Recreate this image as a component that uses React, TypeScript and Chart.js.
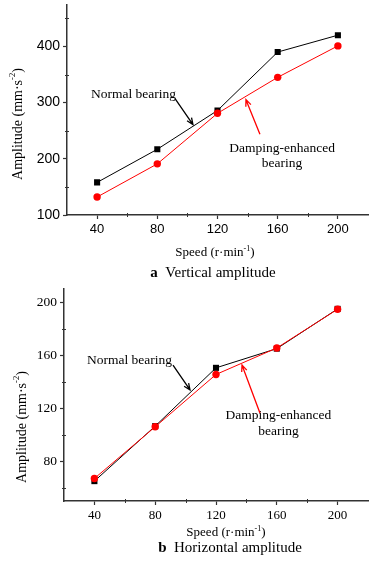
import { useEffect, useRef } from 'react';
import Chart from 'chart.js/auto';

const speeds = [40, 80, 120, 160, 200];
const verticalNormal = [158, 217, 286, 390, 420];
const verticalDamping = [132, 191, 281, 345, 401];
const horizontalNormal = [65, 106.5, 150.5, 165, 195];
const horizontalDamping = [67, 106, 145.5, 165.5, 194.7];
const xMajorTicks = [40, 80, 120, 160, 200];
const xMinorTicks = [60, 100, 140, 180];
const verticalMajorTicks = [100, 200, 300, 400];
const verticalMinorTicks = [150, 250, 350, 450];
const horizontalMajorTicks = [80, 120, 160, 200];
const horizontalMinorTicks = [60, 100, 140, 180];
const seriesNames = ['Normal bearing', 'Damping-enhanced bearing'];

const SERIF = '"Liberation Serif", "Times New Roman", serif';
const SANS = '"Liberation Sans", Arial, sans-serif';

type Part = { text: string; sup?: boolean; bold?: boolean };

function drawParts(ctx: CanvasRenderingContext2D, parts: Part[], cx: number, cy: number, size: number) {
  const fontFor = (p: Part) => `${p.bold ? 'bold ' : ''}${p.sup ? size * 0.62 : size}px ${SERIF}`;
  let total = 0;
  const widths = parts.map((p) => {
    ctx.font = fontFor(p);
    const w = ctx.measureText(p.text).width;
    total += w;
    return w;
  });
  let x = cx - total / 2;
  ctx.textAlign = 'left';
  ctx.textBaseline = 'middle';
  parts.forEach((p, i) => {
    ctx.font = fontFor(p);
    ctx.fillText(p.text, x, p.sup ? cy - size * 0.35 : cy);
    x += widths[i];
  });
}

function drawArrow(ctx: CanvasRenderingContext2D, x1: number, y1: number, x2: number, y2: number, color: string) {
  ctx.save();
  ctx.strokeStyle = color;
  ctx.lineWidth = 1.3;
  ctx.beginPath();
  ctx.moveTo(x1, y1);
  ctx.lineTo(x2, y2);
  const a = Math.atan2(y2 - y1, x2 - x1);
  const L = 7;
  ctx.moveTo(x2 - L * Math.cos(a - 0.4), y2 - L * Math.sin(a - 0.4));
  ctx.lineTo(x2, y2);
  ctx.lineTo(x2 - L * Math.cos(a + 0.4), y2 - L * Math.sin(a + 0.4));
  ctx.stroke();
  ctx.restore();
}

type Spec = {
  normal: number[];
  damping: number[];
  yMin: number;
  yMax: number;
  yMajor: number[];
  yMinor: number[];
  padTop: number;
  yAxisWidth: number;
  xAxisHeight: number;
  tickFamily: string;
  yTickSize: number;
  xTickSize: number;
  normalLabel: { x: number; y: number };
  normalArrow: [number, number, number, number];
  dampLabel: { x: number; y1: number; y2: number };
  dampArrow: [number, number, number, number];
  yTitle: { x: number; y: number };
  xTitle: { x: number; y: number };
  caption: { x: number; y: number; letter: string; text: string };
};

function buildChart(canvas: HTMLCanvasElement, spec: Spec) {
  const decor = {
    id: 'decor',
    afterDraw(chart: any) {
      const ctx: CanvasRenderingContext2D = chart.ctx;
      const xs = chart.scales.x;
      const ys = chart.scales.y;
      const area = chart.chartArea;
      ctx.save();
      // minor ticks
      ctx.strokeStyle = '#333';
      ctx.lineWidth = 1;
      ctx.beginPath();
      xMinorTicks.forEach((v) => {
        const px = Math.round(xs.getPixelForValue(v)) + 0.5;
        ctx.moveTo(px, area.bottom - 2);
        ctx.lineTo(px, area.bottom + 2);
      });
      spec.yMinor.forEach((v) => {
        const py = Math.round(ys.getPixelForValue(v)) + 0.5;
        ctx.moveTo(area.left - 2, py);
        ctx.lineTo(area.left + 2, py);
      });
      ctx.stroke();

      // annotations
      ctx.fillStyle = '#000';
      ctx.font = `13.5px ${SERIF}`;
      ctx.textAlign = 'left';
      ctx.textBaseline = 'middle';
      ctx.fillText(seriesNames[0], xs.getPixelForValue(spec.normalLabel.x), ys.getPixelForValue(spec.normalLabel.y));
      const na = spec.normalArrow;
      drawArrow(ctx, xs.getPixelForValue(na[0]), ys.getPixelForValue(na[1]), xs.getPixelForValue(na[2]), ys.getPixelForValue(na[3]), '#000');

      ctx.fillStyle = '#000';
      ctx.textAlign = 'center';
      ctx.font = `13.5px ${SERIF}`;
      const dx = xs.getPixelForValue(spec.dampLabel.x);
      ctx.fillText('Damping-enhanced', dx, ys.getPixelForValue(spec.dampLabel.y1));
      ctx.fillText('bearing', dx, ys.getPixelForValue(spec.dampLabel.y2));
      const da = spec.dampArrow;
      drawArrow(ctx, xs.getPixelForValue(da[0]), ys.getPixelForValue(da[1]), xs.getPixelForValue(da[2]), ys.getPixelForValue(da[3]), '#ff0000');

      // axis titles
      ctx.fillStyle = '#000';
      drawParts(ctx, [{ text: 'Speed (r·min' }, { text: '-1', sup: true }, { text: ')' }], spec.xTitle.x, spec.xTitle.y, 13);
      ctx.save();
      ctx.translate(spec.yTitle.x, spec.yTitle.y);
      ctx.rotate(-Math.PI / 2);
      drawParts(ctx, [{ text: 'Amplitude (mm·s' }, { text: '-2', sup: true }, { text: ')' }], 0, 0, 14);
      ctx.restore();
      drawParts(ctx, [{ text: spec.caption.letter, bold: true }, { text: '  ' + spec.caption.text }], spec.caption.x, spec.caption.y, 15);
      ctx.restore();
    },
  };

  const axisCommon = {
    type: 'linear' as const,
    grid: { drawOnChartArea: false, tickLength: 4, tickColor: '#333', tickWidth: 1.2 },
    border: { color: '#333', width: 1.5 },
  };

  return new Chart(canvas, {
    type: 'line',
    data: {
      datasets: [
        {
          label: seriesNames[0],
          data: speeds.map((x, i) => ({ x, y: spec.normal[i] })),
          borderColor: '#000',
          backgroundColor: '#000',
          borderWidth: 1,
          pointStyle: 'rect',
          pointRadius: 4.3,
          pointBorderWidth: 0,
          order: 1,
        },
        {
          label: seriesNames[1],
          data: speeds.map((x, i) => ({ x, y: spec.damping[i] })),
          borderColor: '#ff0000',
          backgroundColor: '#ff0000',
          borderWidth: 1,
          pointStyle: 'circle',
          pointRadius: 3.7,
          pointBorderWidth: 0,
          order: 0,
        },
      ],
    },
    options: {
      responsive: false,
      animation: false,
      devicePixelRatio: 1,
      layout: { padding: { left: 0, right: 9, top: spec.padTop, bottom: 0 } },
      plugins: { legend: { display: false }, tooltip: { enabled: false }, title: { display: false } },
      scales: {
        x: {
          ...axisCommon,
          min: 20,
          max: 220,
          afterBuildTicks: (s: any) => {
            s.ticks = xMajorTicks.map((v) => ({ value: v }));
          },
          afterFit: (s: any) => {
            s.height = spec.xAxisHeight;
            s.paddingLeft = 0;
            s.paddingRight = 0;
          },
          ticks: { font: { family: spec.tickFamily, size: spec.xTickSize }, color: '#000', padding: 3, maxRotation: 0, autoSkip: false },
        },
        y: {
          ...axisCommon,
          min: spec.yMin,
          max: spec.yMax,
          afterBuildTicks: (s: any) => {
            s.ticks = spec.yMajor.map((v) => ({ value: v }));
          },
          afterFit: (s: any) => {
            s.width = spec.yAxisWidth;
            s.paddingTop = 0;
            s.paddingBottom = 0;
          },
          ticks: { font: { family: spec.tickFamily, size: spec.yTickSize }, color: '#000', padding: 3, autoSkip: false },
        },
      },
    } as any,
    plugins: [decor],
  });
}

const topSpec: Spec = {
  normal: verticalNormal,
  damping: verticalDamping,
  yMin: 100,
  yMax: 475,
  yMajor: verticalMajorTicks,
  yMinor: verticalMinorTicks,
  padTop: 1,
  yAxisWidth: 67,
  xAxisHeight: 65,
  tickFamily: SANS,
  yTickSize: 14,
  xTickSize: 13,
  normalLabel: { x: 35.9, y: 314 },
  normalArrow: [91.8, 307, 103.7, 261],
  dampLabel: { x: 162.9, y1: 219.3, y2: 191.2 },
  dampArrow: [148.2, 243.9, 138.9, 305.3],
  yTitle: { x: 18, y: 124 },
  xTitle: { x: 215, y: 253 },
  caption: { x: 213, y: 273, letter: 'a', text: 'Vertical amplitude' },
};

const bottomSpec: Spec = {
  normal: horizontalNormal,
  damping: horizontalDamping,
  yMin: 50,
  yMax: 210,
  yMajor: horizontalMajorTicks,
  yMinor: horizontalMinorTicks,
  padTop: 9,
  yAxisWidth: 64,
  xAxisHeight: 60,
  tickFamily: SERIF,
  yTickSize: 13.5,
  xTickSize: 13,
  normalLabel: { x: 35.1, y: 156.4 },
  normalArrow: [91.7, 152.6, 102.9, 133.8],
  dampLabel: { x: 161.1, y1: 114.9, y2: 102.8 },
  dampArrow: [148.9, 116.4, 137.1, 152.6],
  yTitle: { x: 22, y: 147 },
  xTitle: { x: 226, y: 253 },
  caption: { x: 230, y: 268, letter: 'b', text: 'Horizontal amplitude' },
};

export default function App() {
  const topRef = useRef<HTMLCanvasElement>(null);
  const bottomRef = useRef<HTMLCanvasElement>(null);

  useEffect(() => {
    document.body.style.margin = '0';
    const c1 = buildChart(topRef.current!, topSpec);
    const c2 = buildChart(bottomRef.current!, bottomSpec);
    return () => {
      c1.destroy();
      c2.destroy();
    };
  }, []);

  return (
    <div style={{ position: 'relative', width: 377, height: 561, background: '#fff' }}>
      <canvas ref={topRef} width={377} height={280} style={{ position: 'absolute', left: 0, top: 0 }} />
      <canvas ref={bottomRef} width={377} height={281} style={{ position: 'absolute', left: 0, top: 280 }} />
    </div>
  );
}
